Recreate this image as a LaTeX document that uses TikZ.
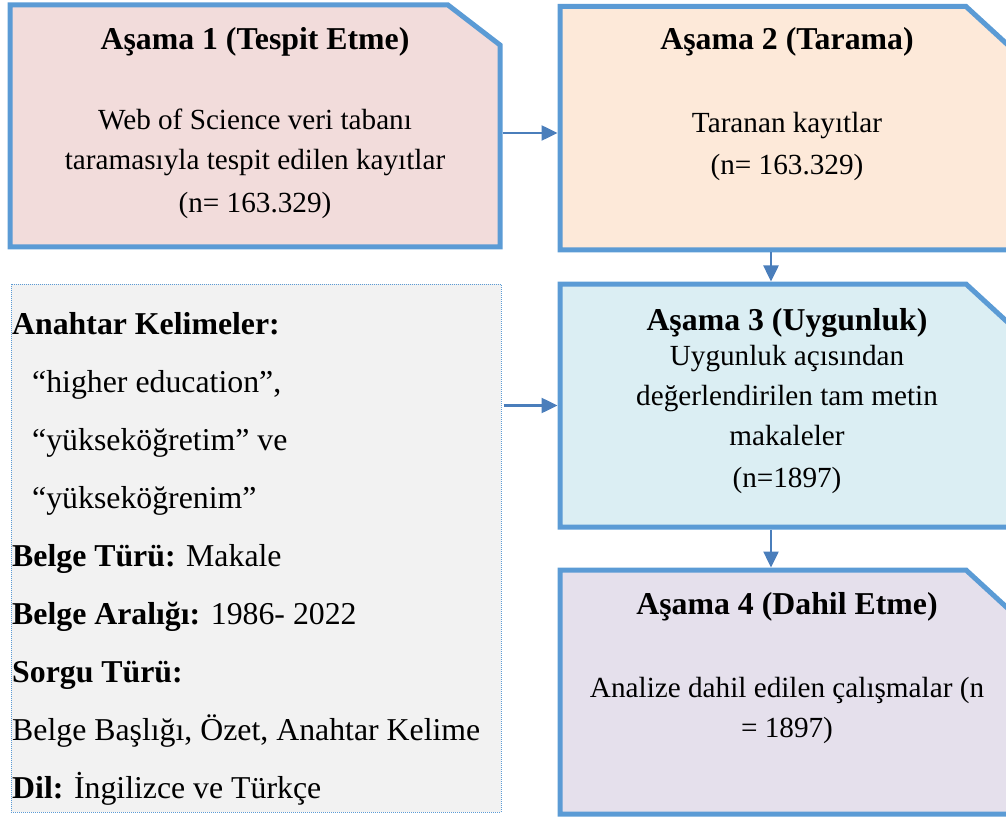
\documentclass[tikz,border=0pt]{standalone}
\usepackage{fontspec}
\setmainfont{Liberation Serif}
\usetikzlibrary{arrows.meta}
\definecolor{bordc}{RGB}{91,155,213}
\definecolor{arrc}{RGB}{74,126,187}
\definecolor{fillA}{RGB}{242,220,219}
\definecolor{fillB}{RGB}{253,233,217}
\definecolor{fillC}{RGB}{219,238,243}
\definecolor{fillD}{RGB}{229,224,236}
\definecolor{fillG}{RGB}{242,242,242}
\tikzset{
 area/.style={rectangle, inner sep=0pt, outer sep=0pt},
 boxline/.style={draw=bordc, line width=5pt, line join=miter},
 conn/.style={draw=arrc, line width=2.5pt, -{Triangle[length=16pt,width=15pt]}, shorten >=2.5pt, shorten <=2.5pt},
 ttl/.style={inner sep=0pt, anchor=base, font=\fontsize{31.8}{38}\selectfont\bfseries},
 bodytxt/.style={inner sep=0pt, anchor=base, font=\fontsize{29.2}{35}\selectfont},
 grtxt/.style={inner sep=0pt, anchor=base west, font=\fontsize{31.8}{38}\selectfont},
}
\begin{document}
\begin{tikzpicture}[x=1pt,y=-1pt]
\useasboundingbox (0,0) rectangle (1006,818);
\clip (0,0) rectangle (1006,818);
% gray keyword box
\node[area, minimum width=490pt, minimum height=528pt, fill=fillG, draw=bordc, line width=0.8pt, dash pattern=on 1pt off 1pt] (gray) at (256,548) {};
% stage boxes
\node[area, minimum width=490pt, minimum height=242pt] (b1) at (255,126) {};
\draw[boxline, fill=fillA] (b1.south west) -- (b1.north west) -- ([xshift=-52pt]b1.north east) -- ([yshift=-40pt]b1.north east) -- (b1.south east) -- cycle;
\node[area, minimum width=455pt, minimum height=243.5pt] (b2) at (787.5,128.25) {};
\draw[boxline, fill=fillB] (b2.south west) -- (b2.north west) -- ([xshift=-49pt]b2.north east) -- ([yshift=-45pt]b2.north east) -- (b2.south east) -- cycle;
\node[area, minimum width=455pt, minimum height=243pt] (b3) at (787.5,405.5) {};
\draw[boxline, fill=fillC] (b3.south west) -- (b3.north west) -- ([xshift=-49pt]b3.north east) -- ([yshift=-45pt]b3.north east) -- (b3.south east) -- cycle;
\node[area, minimum width=455pt, minimum height=244pt] (b4) at (787.5,692) {};
\draw[boxline, fill=fillD] (b4.south west) -- (b4.north west) -- ([xshift=-49pt]b4.north east) -- ([yshift=-45pt]b4.north east) -- (b4.south east) -- cycle;
% texts box 1
\node[ttl] (t1a) at (255,50) {Aşama 1 (Tespit Etme)};
\node[bodytxt] (t1b) at (255,130) {Web of Science veri tabanı};
\node[bodytxt] (t1c) at (255,170) {taramasıyla tespit edilen kayıtlar};
\node[bodytxt] (t1d) at (255,213) {(n= 163.329)};
% box 2
\node[ttl] (t2a) at (787,50) {Aşama 2 (Tarama)};
\node[bodytxt] (t2b) at (787,133) {Taranan kayıtlar};
\node[bodytxt] (t2c) at (787,175) {(n= 163.329)};
% box 3
\node[ttl] (t3a) at (787,330) {Aşama 3 (Uygunluk)};
\node[bodytxt] (t3b) at (787,365) {Uygunluk açısından};
\node[bodytxt] (t3c) at (787,405) {değerlendirilen tam metin};
\node[bodytxt] (t3d) at (787,445) {makaleler};
\node[bodytxt] (t3e) at (787,487) {(n=1897)};
% box 4
\node[ttl] (t4a) at (787,614) {Aşama 4 (Dahil Etme)};
\node[bodytxt] (t4b) at (787,697) {Analize dahil edilen çalışmalar (n};
\node[bodytxt] (t4c) at (787,737) {= 1897)};
% gray box texts
\node[grtxt] (g1) at (12,334) {\textbf{Anahtar Kelimeler:}};
\node[grtxt] (g2) at (32,392) {“higher education”,};
\node[grtxt] (g3) at (32,450) {“yükseköğretim” ve};
\node[grtxt] (g4) at (32,508) {“yükseköğrenim”};
\node[grtxt] (g5) at (12,566) {\textbf{Belge Türü:} Makale};
\node[grtxt] (g6) at (12,624) {\textbf{Belge Aralığı:} 1986- 2022};
\node[grtxt] (g7) at (12,682) {\textbf{Sorgu Türü:}};
\node[grtxt] (g8) at (12,740) {Belge Başlığı, Özet, Anahtar Kelime};
\node[grtxt] (g9) at (12,798) {\textbf{Dil:} İngilizce ve Türkçe};
% connectors
\draw[conn] ([yshift=-7pt]b1.east) -- ([yshift=-7pt]b1.east -| b2.west);
\draw[conn] ([xshift=-16.5pt]b2.south) -- ([xshift=-16.5pt]b3.north);
\draw[conn] ([xshift=-16.5pt]b3.south) -- ([xshift=-16.5pt]b4.north);
\draw[conn] (gray.east |- b3.west) -- (b3.west);
\end{tikzpicture}
\end{document}
